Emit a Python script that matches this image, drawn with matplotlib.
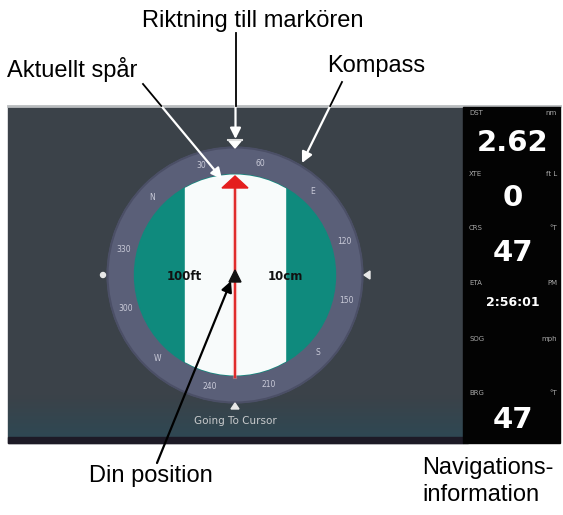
import numpy as np
import matplotlib.pyplot as plt
import matplotlib.patches as mp

# compass data
heading = 47
bearings = [0, 30, 60, 90, 120, 150, 180, 210, 240, 270, 300, 330]
bearing_labels = ['N', '30', '60', 'E', '120', '150', 'S', '210', '240', 'W', '300', '330']
range_left = '100ft'
range_right = '10cm'
status_text = 'Going To Cursor'

# navigation data panel
nav_names = ['DST', 'XTE', 'CRS', 'ETA', 'SOG', 'BRG']
nav_units = ['nm', 'ft L', '°T', 'PM', 'mph', '°T']
nav_values = ['2.62', '0', '47', '2:56:01', '', '47']
nav_label_y = [113, 174, 228, 283, 339, 393]
nav_value_y = [143, 198, 253, 303, 0, 420]
nav_value_size = [21, 21, 21, 9, 21, 21]

# callouts: text, text pos, arrow start, arrow tip, colour
callouts = [
    ('Riktning till markören', (142, 27), (235.5, 33), (235.5, 139), 'white'),
    ('Aktuellt spår', (7, 77), (143, 84), (222, 179), 'white'),
    ('Kompass', (327, 72), (342, 82), (302, 163), 'white'),
    ('Din position', (89, 482), (157, 463), (231, 281), 'black'),
]
nav_caption = ['Navigations-', 'information']
nav_caption_y = [474, 501]

fig = plt.figure(figsize=(5.63, 5.15), dpi=100)
ax = fig.add_axes([0, 0, 1, 1])
ax.set_xlim(0, 563)
ax.set_ylim(515, 0)
ax.axis('off')

# screen background
panel_top, panel_bot = 107, 443
ax.add_patch(mp.Rectangle((8, panel_top), 460, panel_bot - panel_top, color='#3b4249', zorder=1))
grad = np.linspace(0, 1, 50).reshape(-1, 1)
ax.imshow(grad, extent=(8, 468, 437, 395), cmap=plt.matplotlib.colors.LinearSegmentedColormap.from_list(
    'g', ['#3b4249', '#2f4853']), aspect='auto', zorder=1.1)
ax.add_patch(mp.Rectangle((8, 437), 455, 6, color='#1d1a26', zorder=1.2))
ax.plot([8, 560], [105.5, 105.5], color='#b9bcbe', lw=2, zorder=1.3)
ax.add_patch(mp.Rectangle((463, panel_top), 97, panel_bot - panel_top, color='#030303', zorder=1.4))

# compass
cx, cy = 235, 275
ax.add_patch(mp.Circle((cx, cy), 127.5, color='#5a5f78', zorder=2))
ax.add_patch(mp.Circle((cx, cy), 127.5, fill=False, ec='#4b4f66', lw=1.5, zorder=2.1))
inner = mp.Circle((cx, cy), 100.5, color='#0f8a7d', zorder=3)
ax.add_patch(inner)
band = mp.Rectangle((cx - 50, cy - 102), 100, 204, color='#f8fbfb', zorder=3.1)
ax.add_patch(band)
band.set_clip_path(inner)

for b, lab in zip(bearings, bearing_labels):
    th = np.radians(90 - (b - heading))
    ax.text(cx + 114 * np.cos(th), cy - 114 * np.sin(th), lab, color='#c9cad8',
            fontsize=5.5, ha='center', va='center', zorder=4)

# track line and markers
ax.plot([cx, cx], [185, 377], color='#f08080', lw=3, alpha=0.5, zorder=4)
ax.plot([cx, cx], [185, 377], color='#e02828', lw=1.4, zorder=4.1)
ax.add_patch(mp.Polygon([(222, 188), (248, 188), (235, 176)], color='#e41e1e', zorder=4.2))
ax.add_patch(mp.Polygon([(229, 282), (241, 282), (235, 270)], color='#111111', zorder=4.3))
ax.text(184, 276, range_left, fontsize=8.5, fontweight='bold', color='#111111', ha='center', va='center', zorder=5)
ax.text(285, 276, range_right, fontsize=8.5, fontweight='bold', color='#111111', ha='center', va='center', zorder=5)

ax.add_patch(mp.Polygon([(229, 141), (241, 141), (235, 148)], color='white', zorder=5))
ax.plot([228, 242], [140, 140], color='#dddddd', lw=1.5, zorder=5)
ax.add_patch(mp.Circle((103, cy), 2.5, color='#e8e8e8', zorder=5))
ax.add_patch(mp.Polygon([(370, cy - 4), (370, cy + 4), (364, cy)], color='#e8e8e8', zorder=5))
ax.add_patch(mp.Polygon([(231, 409), (239, 409), (235, 403)], color='#e8e8e8', zorder=5))
ax.text(cx, 421, status_text, fontsize=7.5, color='#c8cacc', ha='center', va='center', zorder=5)

# data panel text
for name, unit, val, ly, vy, vs in zip(nav_names, nav_units, nav_values, nav_label_y, nav_value_y, nav_value_size):
    ax.text(469, ly, name, fontsize=5, color='#a8a8a8', ha='left', va='center', zorder=6)
    ax.text(557, ly, unit, fontsize=5, color='#a8a8a8', ha='right', va='center', zorder=6)
    if val:
        ax.text(513, vy, val, fontsize=vs, fontweight='bold', color='white', ha='center', va='center', zorder=6)

# callouts
for txt, tpos, start, tip, col in callouts:
    ax.text(tpos[0], tpos[1], txt, family='Liberation Sans', fontsize=17, color='black',
            ha='left', va='baseline', zorder=10)
    ax.annotate('', xy=tip, xytext=start, zorder=9,
                arrowprops=dict(arrowstyle='-|>', color=col, lw=1.6, mutation_scale=16,
                                shrinkA=0, shrinkB=0))
    if col == 'white':
        # part outside the screen is drawn in black
        f = (panel_top - 1 - start[1]) / (tip[1] - start[1])
        ex = start[0] + f * (tip[0] - start[0])
        ax.plot([start[0], ex], [start[1], panel_top - 1], color='black', lw=1.3, zorder=9.5)

for line, ly in zip(nav_caption, nav_caption_y):
    ax.text(422, ly, line, family='Liberation Sans', fontsize=17, color='black',
            ha='left', va='baseline', zorder=10)

fig.savefig('out.png', dpi=100)
